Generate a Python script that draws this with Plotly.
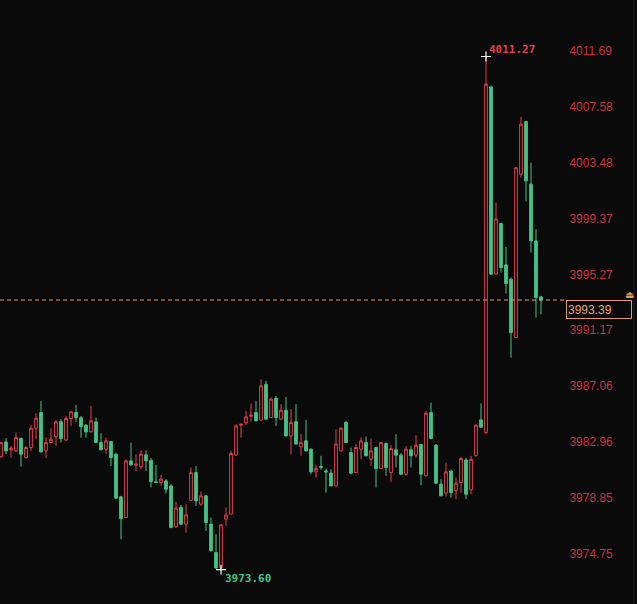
import plotly.graph_objects as go

# ---- data ----
opens = [3981.89, 3982.97, 3982.39, 3982.31, 3983.22, 3981.82, 3982.56, 3983.98, 3985.13, 3982.31,
         3982.92, 3983.36, 3984.46, 3983.10, 3984.69, 3985.13, 3984.74, 3984.20, 3983.71, 3984.44,
         3982.92, 3982.44, 3983.00, 3982.07, 3978.94, 3977.42, 3981.58, 3981.26, 3981.14, 3982.02,
         3981.63, 3980.04, 3979.99, 3980.11, 3979.74, 3976.73, 3978.15, 3976.93, 3978.69, 3980.72,
         3978.40, 3979.01, 3976.93, 3974.85, 3973.75, 3977.30, 3977.67, 3982.00, 3984.20, 3984.39,
         3984.86, 3985.13, 3984.57, 3987.21, 3984.76, 3986.18, 3984.64, 3985.30, 3983.41, 3984.46,
         3982.61, 3983.05, 3982.44, 3980.77, 3981.16, 3980.84, 3980.68, 3979.74, 3982.31, 3984.39,
         3982.19, 3980.72, 3982.44, 3982.92, 3981.70, 3982.56, 3981.01, 3982.85, 3980.72, 3982.39,
         3982.00, 3980.60, 3982.39, 3982.00, 3982.79, 3980.48, 3985.13, 3982.73, 3979.87, 3979.21,
         3980.84, 3979.38, 3979.99, 3981.65, 3979.45, 3981.95, 3984.59, 3983.66, 4009.04, 3995.29,
         3999.00, 3995.97, 3994.92, 3990.63, 4002.63, 4006.49, 4001.90, 3997.73, 3993.62]
highs = [3983.00, 3983.25, 3982.68, 3983.66, 3983.29, 3982.68, 3984.20, 3985.08, 3985.98, 3983.29,
         3983.98, 3984.57, 3984.64, 3984.88, 3985.25, 3985.69, 3984.88, 3984.27, 3985.62, 3984.76,
         3983.61, 3983.29, 3983.05, 3982.19, 3979.01, 3981.70, 3982.92, 3982.07, 3982.36, 3982.36,
         3981.78, 3981.29, 3980.55, 3980.24, 3979.87, 3978.57, 3978.35, 3978.40, 3981.09, 3981.21,
         3979.32, 3979.08, 3977.42, 3976.20, 3976.93, 3978.15, 3982.31, 3984.27, 3984.32, 3985.25,
         3985.79, 3985.98, 3987.58, 3987.45, 3986.23, 3986.35, 3985.74, 3986.28, 3985.38, 3985.74,
         3983.54, 3984.59, 3982.48, 3981.26, 3981.95, 3981.01, 3980.97, 3983.91, 3984.02, 3984.52,
         3982.56, 3982.81, 3983.29, 3983.36, 3983.22, 3982.63, 3982.97, 3982.92, 3982.73, 3983.54,
         3982.14, 3982.68, 3982.68, 3983.47, 3982.81, 3985.25, 3985.86, 3982.81, 3980.24, 3981.45,
         3980.92, 3980.35, 3981.87, 3981.80, 3981.95, 3984.27, 3985.80, 4011.27, 4009.12, 4000.55,
         3999.08, 3997.29, 3995.04, 4003.12, 4006.84, 4006.55, 4003.48, 3998.59, 3993.70]
lows = [3981.80, 3982.07, 3981.80, 3982.24, 3981.16, 3981.75, 3982.31, 3983.17, 3982.20, 3981.78,
        3982.88, 3982.68, 3982.92, 3983.08, 3984.15, 3984.44, 3983.29, 3983.29, 3983.66, 3982.90,
        3982.37, 3982.07, 3981.21, 3978.82, 3975.83, 3977.40, 3981.21, 3980.84, 3980.97, 3980.84,
        3979.62, 3979.97, 3979.74, 3979.18, 3976.66, 3976.71, 3976.88, 3976.31, 3978.64, 3978.27,
        3978.27, 3976.44, 3974.95, 3973.65, 3973.60, 3976.81, 3977.65, 3981.98, 3983.29, 3984.22,
        3984.46, 3984.50, 3984.55, 3984.62, 3984.74, 3984.15, 3984.62, 3983.39, 3982.07, 3982.79,
        3981.95, 3982.29, 3980.60, 3980.35, 3980.92, 3979.25, 3979.72, 3979.72, 3982.29, 3982.90,
        3980.60, 3980.70, 3981.70, 3981.93, 3981.21, 3979.62, 3980.99, 3980.48, 3980.04, 3981.09,
        3980.58, 3980.48, 3981.09, 3981.82, 3979.79, 3980.46, 3983.20, 3979.92, 3978.99, 3978.96,
        3978.88, 3978.77, 3979.25, 3978.77, 3979.13, 3981.93, 3984.03, 3983.56, 3995.27, 3995.27,
        3995.41, 3993.86, 3989.16, 3990.61, 4002.38, 4000.62, 3996.87, 3992.10, 3992.35]
closes = [3982.92, 3982.31, 3982.51, 3983.29, 3982.07, 3982.56, 3983.98, 3984.71, 3982.24, 3982.92,
          3983.17, 3984.44, 3983.22, 3984.69, 3985.18, 3984.76, 3984.10, 3983.71, 3984.52, 3982.92,
          3982.39, 3983.05, 3981.82, 3978.84, 3977.34, 3981.58, 3981.29, 3981.34, 3982.07, 3981.58,
          3980.06, 3979.99, 3980.24, 3979.50, 3976.68, 3978.11, 3976.93, 3977.61, 3980.72, 3978.64,
          3979.01, 3977.05, 3974.97, 3973.72, 3976.88, 3977.61, 3982.12, 3984.15, 3984.27, 3984.81,
          3984.93, 3984.52, 3987.09, 3984.64, 3986.11, 3984.76, 3985.30, 3983.41, 3984.39, 3982.81,
          3982.92, 3982.31, 3980.77, 3981.01, 3981.11, 3980.77, 3979.74, 3982.81, 3983.98, 3982.92,
          3980.68, 3982.56, 3983.05, 3981.95, 3982.31, 3981.01, 3982.92, 3981.09, 3982.48, 3982.00,
          3980.60, 3982.44, 3981.95, 3982.73, 3980.60, 3985.08, 3983.22, 3979.94, 3979.01, 3980.77,
          3979.25, 3979.94, 3981.75, 3979.13, 3981.70, 3984.20, 3984.05, 4009.24, 3995.29, 3999.33,
          3995.77, 3994.60, 3991.00, 4003.10, 4006.30, 4002.14, 3997.73, 3993.57, 3993.39]

tick_vals = [4011.69, 4007.58, 4003.48, 3999.37, 3995.27, 3991.17, 3987.06, 3982.96, 3978.85, 3974.75]
tick_text = ["4011.69", "4007.58", "4003.48", "3999.37", "3995.27", "3991.17", "3987.06", "3982.96",
             "3978.85", "3974.75"]

last_price = closes[-1]
idx = list(range(len(closes)))
hi_i = max(idx, key=lambda i: highs[i])
lo_i = min(idx, key=lambda i: lows[i])

BG = "#0a0a0a"
RED = "#e2404c"
GREEN = "#45c286"
AXIS_RED = "#c8343e"
ORANGE = "#e29a62"

fig = go.Figure()
fig.add_trace(go.Candlestick(
    x=idx, open=opens, high=highs, low=lows, close=closes,
    increasing=dict(line=dict(color=RED, width=1), fillcolor=BG),
    decreasing=dict(line=dict(color=GREEN, width=1), fillcolor=GREEN),
    whiskerwidth=0, hoverinfo="skip", showlegend=False,
))
fig.add_trace(go.Scatter(
    x=[hi_i, lo_i], y=[highs[hi_i], lows[lo_i]], mode="markers",
    marker=dict(symbol="cross-thin", size=7, line=dict(color="white", width=1.2)),
    hoverinfo="skip", showlegend=False, cliponaxis=False,
))

fig.add_annotation(x=hi_i, y=highs[hi_i], xref="x", yref="y", text="<b>%.2f</b>" % highs[hi_i],
                   showarrow=False, xanchor="left", yanchor="bottom", xshift=1, yshift=-1,
                   font=dict(family="DejaVu Sans Mono", size=11, color=RED))
fig.add_annotation(x=lo_i, y=lows[lo_i], xref="x", yref="y", text="<b>%.2f</b>" % lows[lo_i],
                   showarrow=False, xanchor="left", yanchor="top", xshift=2, yshift=0,
                   font=dict(family="DejaVu Sans Mono", size=11, color=GREEN))

# current price line + box
fig.add_shape(type="line", xref="paper", yref="y", x0=0, x1=1.006, y0=last_price, y1=last_price,
              line=dict(color=ORANGE, width=1, dash="4px,3px"), layer="above")
fig.add_annotation(x=1, y=last_price, xref="paper", yref="y", text="%.2f" % last_price,
                   showarrow=False, xanchor="left", yanchor="top", xshift=4, yshift=0,
                   align="left", width=62, height=15, borderpad=1,
                   bordercolor=ORANGE, borderwidth=1, bgcolor=BG,
                   font=dict(family="Liberation Sans", size=12, color="#e3a676"))
fig.add_annotation(x=1, y=last_price, xref="paper", yref="y", text="⏏",
                   showarrow=False, xanchor="center", yanchor="bottom", xshift=67, yshift=-2,
                   font=dict(family="DejaVu Sans", size=10, color=ORANGE))
fig.add_shape(type="line", xref="paper", yref="paper", x0=1.128, x1=1.128, y0=0, y1=1,
              line=dict(color="#1e1e1e", width=1))

fig.update_layout(
    width=637, height=604,
    margin=dict(l=0, r=75, t=0, b=0),
    paper_bgcolor=BG, plot_bgcolor=BG,
    boxgap=0.22,
    xaxis=dict(visible=False, range=[-0.2, 112.2], rangeslider=dict(visible=False)),
    yaxis=dict(side="right", range=[3971.07, 4015.42], tickvals=tick_vals, ticktext=tick_text,
               showgrid=False, zeroline=False, showline=False, ticks="outside", ticklen=4,
               tickcolor="rgba(0,0,0,0)",
               tickfont=dict(family="Liberation Sans", size=12, color=AXIS_RED)),
)

fig.write_html("out.html")
